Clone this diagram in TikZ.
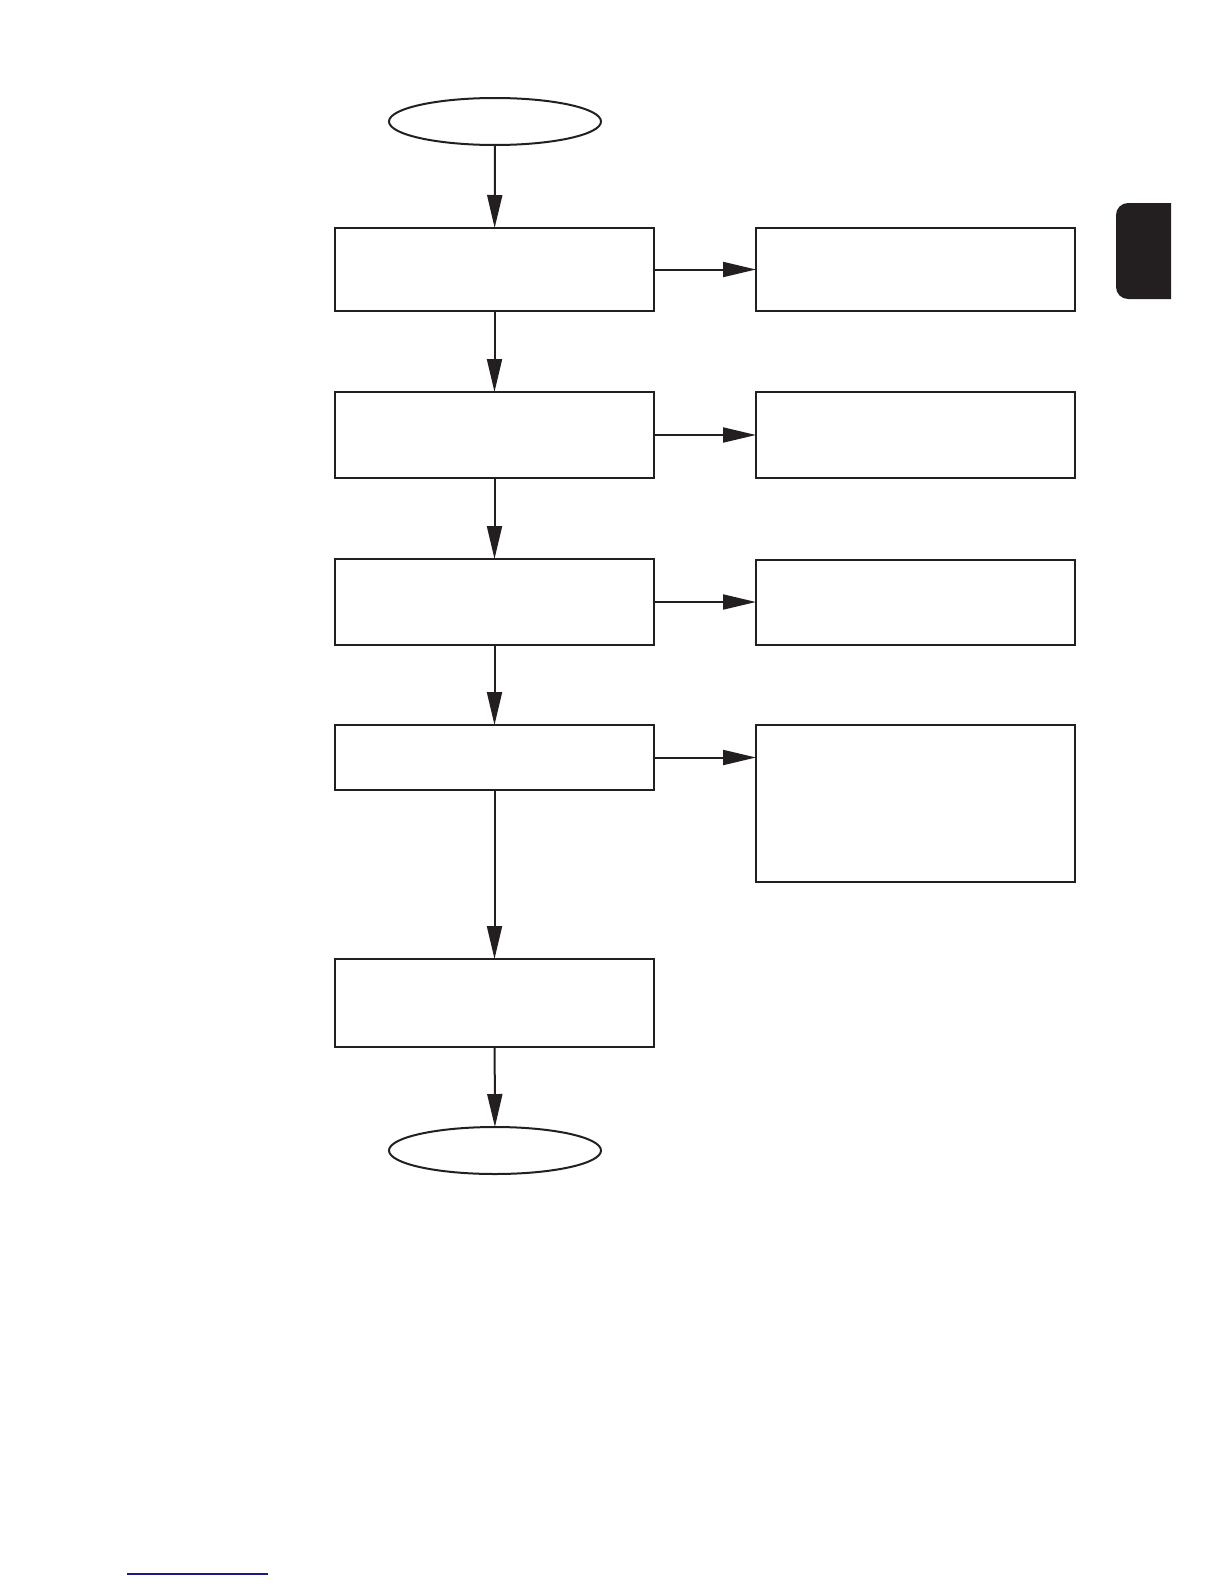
\documentclass[tikz,border=0pt]{standalone}
\usepackage{tikz}
\usetikzlibrary{arrows.meta, shapes.geometric, positioning}
\definecolor{flowInk}{HTML}{231F20}
\definecolor{linkBlue}{HTML}{1A1A8C}

\begin{document}
\begin{tikzpicture}[
  x=1pt, y=-1pt,
  every node/.style={inner sep=0pt, outer sep=0pt},
  box/.style={draw=flowInk, line width=2pt, rectangle, minimum width=319pt},
  terminal/.style={draw=flowInk, line width=2pt, ellipse, minimum width=212pt, minimum height=47pt},
  flow/.style={draw=flowInk, line width=2pt, -{Triangle[length=33pt, width=15pt]}}
]
  \useasboundingbox (0,0) rectangle (1224,1584);

  % main column
  \node[terminal] (start) at (495,121.5) {};
  \node[box, minimum height=83pt] (stageA) at (494.5,269.5) {};
  \node[box, minimum height=86pt] (stageB) at (494.5,435) {};
  \node[box, minimum height=86pt] (stageC) at (494.5,602) {};
  \node[box, minimum height=65pt] (stageD) at (494.5,757.5) {};
  \node[box, minimum height=88pt] (stageE) at (494.5,1003) {};
  \node[terminal] (finish) at (495,1150.5) {};

  % side column
  \node[box, minimum height=83pt] (noteA) at (915.5,269.5) {};
  \node[box, minimum height=86pt] (noteB) at (915.5,435) {};
  \node[box, minimum height=85pt] (noteC) at (915.5,602.5) {};
  \node[box, minimum height=157pt] (noteD) at (915.5,803.5) {};

  \draw[flow] (start) -- (stageA);
  \draw[flow] (stageA) -- (stageB);
  \draw[flow] (stageB) -- (stageC);
  \draw[flow] (stageC) -- (stageD);
  \draw[flow] (stageD) -- (stageE);
  \draw[flow] (stageE) -- (finish);

  \draw[flow] (stageA.east) -- (stageA.east -| noteA.west);
  \draw[flow] (stageB.east) -- (stageB.east -| noteB.west);
  \draw[flow] (stageC.east) -- (stageC.east -| noteC.west);
  \draw[flow] (stageD.east) -- (stageD.east -| noteD.west);

  % page tab and footer rule
  \fill[flowInk] (1171,203) [rounded corners=12pt] -- (1116,203) -- (1116,299) [sharp corners] -- (1171,299) -- cycle;
  \draw[linkBlue, line width=1.5pt] (127,1574) -- (268,1574);
\end{tikzpicture}
\end{document}
